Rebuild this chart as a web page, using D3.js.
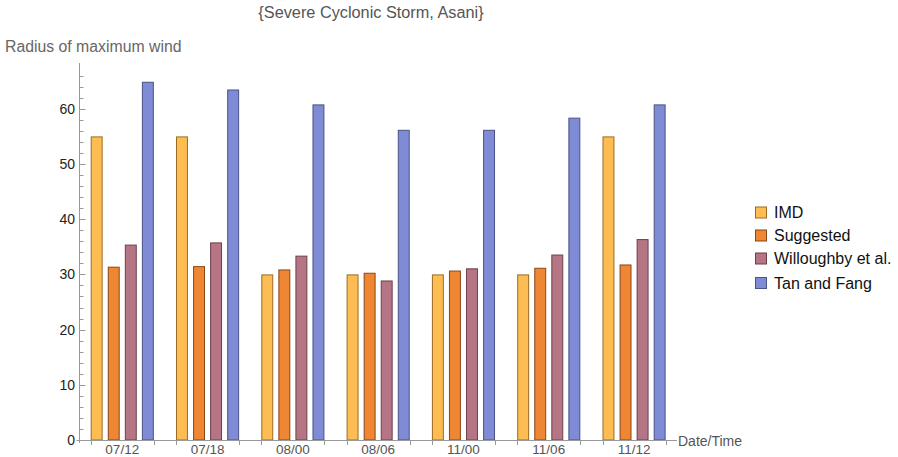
<!DOCTYPE html>
<html><head><meta charset="utf-8">
<script src="https://cdn.jsdelivr.net/npm/d3@7"></script>
<style>body{margin:0;background:#fff}svg{display:block}text{font-family:"Liberation Sans",Arial,sans-serif}</style>
</head><body><svg id="c" width="898" height="457"></svg>
<script>
const categories = ["07/12","07/18","08/00","08/06","11/00","11/06","11/12"];
const seriesNames = ["IMD","Suggested","Willoughby et al.","Tan and Fang"];
const imd = [55,55,30,30,30,30,55];
const suggested = [31.4,31.5,30.9,30.3,30.7,31.2,31.8];
const willoughby = [35.4,35.8,33.4,28.9,31.1,33.6,36.4];
const tanFang = [64.9,63.5,60.8,56.2,56.2,58.4,60.8];
const yTicks = [0,10,20,30,40,50,60];
const title = "{Severe Cyclonic Storm, Asani}";
const yLabel = "Radius of maximum wind";
const xLabel = "Date/Time";

const fills = ["#fdbd53","#ef8633","#b57585","#7f8cd5"];
const strokes = ["#9c6b22","#8a4717","#6b4049","#4a5288"];
const series = [imd, suggested, willoughby, tanFang];

const svg = d3.select("#c");
const axisX = 79.5, x0 = 90.7, p = 17.06;
const y = d3.scaleLinear().domain([0,68.3]).range([440,63]);
const xs = d3.scaleLinear().domain([0,35]).range([x0, x0+35*p]);
const bw = xs(0.7)-xs(0);

svg.append("text").attr("x",371).attr("y",17.5).attr("text-anchor","middle")
  .attr("font-size",16.3).attr("fill","#555").text(title);
svg.append("text").attr("x",5).attr("y",51.5).attr("font-size",15.8).attr("fill","#666").text(yLabel);

series.forEach((vals,j)=>{
  svg.append("g").selectAll("rect").data(vals).join("rect")
    .attr("x",(d,i)=>xs(5*i+j)+0.5).attr("y",d=>y(d)+0.5)
    .attr("width",bw-1).attr("height",d=>y(0)-y(d)-0.5)
    .attr("fill",fills[j]).attr("stroke",strokes[j]).attr("stroke-width",1);
});

const ax = svg.append("g").attr("stroke","#999").attr("stroke-width",1).attr("fill","none");
ax.append("line").attr("x1",axisX).attr("x2",axisX).attr("y1",63).attr("y2",443);
ax.append("line").attr("x1",axisX-3).attr("x2",677).attr("y1",440.5).attr("y2",440.5);
d3.range(0,68,2).forEach(v=>{
  const major = v%10===0;
  ax.append("line").attr("x1",axisX).attr("x2",axisX+(major?6:4))
    .attr("y1",Math.round(y(v))+0.5).attr("y2",Math.round(y(v))+0.5);
});
svg.append("g").selectAll("text").data(yTicks).join("text")
  .attr("x",75).attr("y",d=>y(d)+5).attr("text-anchor","end")
  .attr("font-size",14).attr("fill","#222").text(d=>d);
categories.forEach((c,i)=>{
  [xs(5*i), xs(5*i+3.7)].forEach(t=>{
    ax.append("line").attr("x1",Math.round(t)+0.5).attr("x2",Math.round(t)+0.5).attr("y1",440).attr("y2",445);
  });
});
svg.append("g").selectAll("text").data(categories).join("text")
  .attr("x",(d,i)=>xs(5*i+1.85)).attr("y",454).attr("text-anchor","middle")
  .attr("font-size",13.5).attr("fill","#555").text(d=>d);
svg.append("text").attr("x",678).attr("y",445.5).attr("font-size",14).attr("fill","#555").text(xLabel);

const ly = [212.5,235.5,258.5,283];
seriesNames.forEach((n,j)=>{
  svg.append("rect").attr("x",755.5).attr("y",ly[j]-5.5).attr("width",11).attr("height",11)
    .attr("fill",fills[j]).attr("stroke",strokes[j]);
  svg.append("text").attr("x",774).attr("y",ly[j]+5.5).attr("font-size",16).attr("fill","#111").text(n);
});
</script></body></html>
